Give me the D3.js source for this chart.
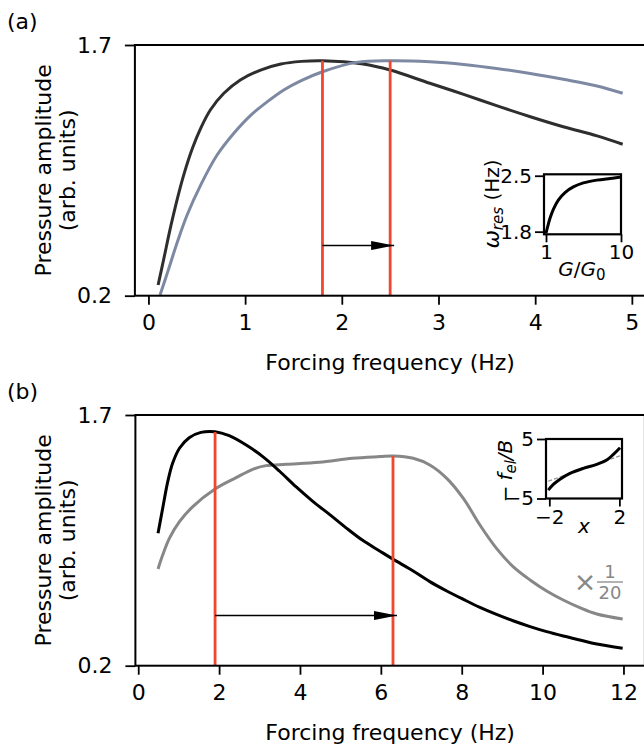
<!DOCTYPE html>
<html>
<head>
<meta charset="utf-8">
<script src="https://cdn.jsdelivr.net/npm/d3@7"></script>
<style>
    body{ margin:0; background:#fff; }
    svg{ font-family:"DejaVu Sans", sans-serif; }
    .axis path{ display:none; }
    .axis line{ stroke:#000; stroke-width:1.8; }
    .axis text{ font-size:22px; fill:#000; font-family:"DejaVu Sans", sans-serif; }
    .inset text{ font-size:20px; }
    .frame{ fill:none; stroke:#000; stroke-width:2; }
    .label{ font-size:22px; fill:#000; }
    .small{ font-size:20px; fill:#000; }
</style>
</head>
<body>
<script>
(function(){

    // panel (a): two resonance curves
    var aBlackX = [0.10, 0.16, 0.23, 0.30, 0.37, 0.455, 0.54, 0.64, 0.78, 0.95, 1.16, 1.37, 1.58, 1.80, 2.22, 2.50, 2.91, 3.26, 3.60, 3.95, 4.29, 4.64, 4.905];
    var aBlackY = [0.264, 0.424, 0.613, 0.783, 0.932, 1.082, 1.201, 1.311, 1.411, 1.491, 1.550, 1.586, 1.602, 1.606, 1.586, 1.550, 1.471, 1.405, 1.337, 1.271, 1.211, 1.156, 1.106];
    var aBlueX = [0.12, 0.20, 0.30, 0.40, 0.54, 0.71, 0.89, 1.06, 1.23, 1.40, 1.58, 1.80, 2.15, 2.50, 2.91, 3.26, 3.60, 3.95, 4.29, 4.64, 4.905];
    var aBlueY = [0.204, 0.344, 0.523, 0.683, 0.862, 1.042, 1.177, 1.281, 1.361, 1.431, 1.487, 1.540, 1.596, 1.606, 1.600, 1.584, 1.560, 1.530, 1.495, 1.455, 1.411];
    var aPeaks = [1.8, 2.5];
    var aPeakAmp = [1.606, 1.606];
    var aTicks = [0, 1, 2, 3, 4, 5];

    // panel (a) inset: resonance frequency vs G/G0
    var insetAX = [1.0, 1.2, 1.48, 1.88, 2.48, 3.28, 4.28, 5.48, 7.09, 8.68, 9.8, 10];
    var insetAY = [1.78, 1.863, 1.967, 2.08, 2.196, 2.29, 2.36, 2.41, 2.445, 2.466, 2.48, 2.482];

    // panel (b)
    var bBlackX = [0.49, 0.605, 0.73, 0.85, 1.02, 1.26, 1.55, 1.90, 2.25, 2.67, 3.08, 3.49, 3.90, 4.31, 4.73, 5.14, 5.55, 5.98, 6.31, 6.80, 7.21, 7.63, 8.04, 8.45, 8.86, 9.27, 9.69, 10.10, 10.51, 10.92, 11.34, 11.98];
    var bBlackY = [0.992, 1.142, 1.301, 1.411, 1.501, 1.564, 1.596, 1.600, 1.576, 1.520, 1.451, 1.365, 1.271, 1.185, 1.105, 1.025, 0.950, 0.885, 0.836, 0.767, 0.703, 0.647, 0.597, 0.549, 0.507, 0.469, 0.434, 0.404, 0.378, 0.354, 0.330, 0.304];
    var bGrayX = [0.49, 0.605, 0.77, 1.02, 1.35, 1.90, 2.42, 2.83, 3.16, 3.66, 4.48, 5.30, 5.98, 6.31, 6.80, 7.21, 7.63, 8.04, 8.45, 8.86, 9.27, 9.69, 10.10, 10.51, 10.92, 11.34, 11.98];
    var bGrayY = [0.779, 0.862, 0.962, 1.062, 1.152, 1.257, 1.325, 1.375, 1.397, 1.405, 1.417, 1.441, 1.451, 1.455, 1.441, 1.401, 1.321, 1.201, 1.042, 0.902, 0.793, 0.713, 0.647, 0.593, 0.547, 0.509, 0.479];
    var bPeaks = [1.9, 6.3];
    var bPeakAmp = [1.598, 1.455];
    var bTicks = [0, 2, 4, 6, 8, 10, 12];

    // panel (b) inset: elastic force
    var insetBX = [-2.06, -1.77, -1.39, -0.82, -0.06, 0.71, 1.28, 1.66, 2.04];
    var insetBY = [-3.6, -2.64, -1.75, -0.78, 0.06, 0.73, 1.46, 2.42, 3.53];
    var insetBLinX = [-2.06, 2.04];
    var insetBLinY = [-2.08, 2.18];

    var ampTicks = [0.2, 1.7];
    var arrowAmp = 0.5;

    var red = "#f2462f";

    var svg = d3.select("body").append("svg")
        .attr("width", 644)
        .attr("height", 750);

    var defs = svg.append("defs");
    defs.append("marker")
        .attr("id", "head")
        .attr("markerUnits", "userSpaceOnUse")
        .attr("markerWidth", 23)
        .attr("markerHeight", 9)
        .attr("refX", 23)
        .attr("refY", 4.5)
        .attr("orient", "auto")
        .append("path")
        .attr("d", "M0,0L23,4.5L0,9Z")
        .attr("fill", "#000");

    function zip(xs, ys){
        return xs.map(function(v, i){ return [v, ys[i]]; });
    }

    function drawMain(opt){
        var x = d3.scaleLinear().domain(opt.xDomain).range(opt.xRange);
        var y = d3.scaleLinear().domain([0.2, 1.7]).range(opt.yRange);
        var line = d3.line()
            .x(function(d){ return x(d[0]); })
            .y(function(d){ return y(d[1]); })
            .curve(d3.curveCatmullRom.alpha(0.5));

        opt.curves.forEach(function(c){
            svg.append("path")
                .datum(zip(c.xs, c.ys))
                .attr("d", line)
                .attr("fill", "none")
                .attr("stroke", c.color)
                .attr("stroke-width", 3);
        });

        opt.peaks.forEach(function(p, i){
            svg.append("line")
                .attr("x1", x(p)).attr("x2", x(p))
                .attr("y1", y(0.2)).attr("y2", y(opt.peakAmp[i]))
                .attr("stroke", red)
                .attr("stroke-width", 2.8);
        });

        svg.append("line")
            .attr("x1", x(opt.peaks[0]))
            .attr("x2", x(opt.peaks[1]) + 4)
            .attr("y1", y(arrowAmp)).attr("y2", y(arrowAmp))
            .attr("stroke", "#000")
            .attr("stroke-width", 1.6)
            .attr("marker-end", "url(#head)");

        svg.append("rect")
            .attr("class", "frame")
            .attr("x", opt.xRange[0])
            .attr("y", opt.yRange[1])
            .attr("width", opt.xRange[1] - opt.xRange[0])
            .attr("height", opt.yRange[0] - opt.yRange[1]);

        svg.append("g")
            .attr("class", "axis")
            .attr("transform", "translate(0," + opt.yRange[0] + ")")
            .call(d3.axisBottom(x).tickValues(opt.ticks).tickFormat(d3.format("d"))
                .tickSize(9).tickPadding(10).tickSizeOuter(0));

        svg.append("g")
            .attr("class", "axis")
            .attr("transform", "translate(" + opt.xRange[0] + ",0)")
            .call(d3.axisLeft(y).tickValues(ampTicks).tickFormat(d3.format(".1f"))
                .tickSize(10).tickPadding(13).tickSizeOuter(0));

        var cy = (opt.yRange[0] + opt.yRange[1]) / 2;
        svg.append("text").attr("class", "label")
            .attr("transform", "translate(51," + cy + ") rotate(-90)")
            .attr("text-anchor", "middle")
            .text("Pressure amplitude");
        svg.append("text").attr("class", "label")
            .attr("transform", "translate(75," + cy + ") rotate(-90)")
            .attr("text-anchor", "middle")
            .text("(arb. units)");

        svg.append("text").attr("class", "label")
            .attr("x", (opt.xRange[0] + opt.xRange[1]) / 2)
            .attr("y", opt.yRange[0] + 74)
            .attr("text-anchor", "middle")
            .text("Forcing frequency (Hz)");

        svg.append("text").attr("class", "label")
            .attr("x", 7)
            .attr("y", opt.yRange[1] - 16)
            .text(opt.tag);

        return {x: x, y: y};
    }

    drawMain({
        xDomain: [-0.14, 5.14], xRange: [134.9, 645.4], yRange: [295.7, 45],
        ticks: aTicks, peaks: aPeaks, peakAmp: aPeakAmp, tag: "(a)",
        curves: [
            {xs: aBlackX, ys: aBlackY, color: "#2e2e2e"},
            {xs: aBlueX, ys: aBlueY, color: "#7d89a2"}
        ]
    });

    drawMain({
        xDomain: [-0.07, 12.53], xRange: [135.4, 644.9], yRange: [665.7, 415],
        ticks: bTicks, peaks: bPeaks, peakAmp: bPeakAmp, tag: "(b)",
        curves: [
            {xs: bGrayX, ys: bGrayY, color: "#878787"},
            {xs: bBlackX, ys: bBlackY, color: "#000"}
        ]
    });

    // x 1/20 note
    var gray = "#888";
    svg.append("text")
        .attr("x", 585).attr("y", 591)
        .attr("text-anchor", "middle")
        .style("font-size", "27px").style("fill", gray)
        .text("\u00d7");
    svg.append("text")
        .attr("x", 610).attr("y", 578)
        .attr("text-anchor", "middle")
        .style("font-size", "18px").style("fill", gray)
        .text("1");
    svg.append("line")
        .attr("x1", 597).attr("x2", 623)
        .attr("y1", 582).attr("y2", 582)
        .attr("stroke", gray).attr("stroke-width", 1.3);
    svg.append("text")
        .attr("x", 610).attr("y", 599)
        .attr("text-anchor", "middle")
        .style("font-size", "18px").style("fill", gray)
        .text("20");

    function drawInset(opt){
        var x = d3.scaleLinear().domain(opt.xDomain).range(opt.xRange);
        var y = d3.scaleLinear().domain(opt.yDomain).range(opt.yRange);
        var line = d3.line()
            .x(function(d){ return x(d[0]); })
            .y(function(d){ return y(d[1]); })
            .curve(d3.curveCatmullRom.alpha(0.5));

        svg.append("rect")
            .attr("x", opt.xRange[0]).attr("y", opt.yRange[1])
            .attr("width", opt.xRange[1] - opt.xRange[0])
            .attr("height", opt.yRange[0] - opt.yRange[1])
            .attr("fill", "#fff");

        if (opt.lin){
            svg.append("path")
                .datum(opt.lin)
                .attr("d", d3.line().x(function(d){ return x(d[0]); }).y(function(d){ return y(d[1]); }))
                .attr("fill", "none")
                .attr("stroke", "#999")
                .attr("stroke-width", 1.3)
                .attr("stroke-dasharray", "4,2");
        }

        svg.append("path")
            .datum(opt.data)
            .attr("d", line)
            .attr("fill", "none")
            .attr("stroke", "#000")
            .attr("stroke-width", 3);

        svg.append("rect")
            .attr("x", opt.xRange[0]).attr("y", opt.yRange[1])
            .attr("width", opt.xRange[1] - opt.xRange[0])
            .attr("height", opt.yRange[0] - opt.yRange[1])
            .attr("fill", "none")
            .attr("stroke", "#000")
            .attr("stroke-width", 2.2);

        svg.append("g")
            .attr("class", "axis inset")
            .attr("transform", "translate(0," + opt.yRange[0] + ")")
            .call(d3.axisBottom(x).tickValues(opt.xTicks).tickFormat(opt.xFormat).tickSize(8).tickPadding(3).tickSizeOuter(0));

        svg.append("g")
            .attr("class", "axis inset")
            .attr("transform", "translate(" + opt.xRange[0] + ",0)")
            .call(d3.axisLeft(y).tickValues(opt.yTicks).tickFormat(opt.yFormat).tickSize(9).tickPadding(3).tickSizeOuter(0));
    }

    drawInset({
        xDomain: [0.76, 10], xRange: [544, 621],
        yDomain: [1.767, 2.518], yRange: [234.3, 174.3],
        xTicks: [1, 10], xFormat: d3.format("d"),
        yTicks: [1.8, 2.5], yFormat: d3.format(".1f"),
        data: zip(insetAX, insetAY)
    });

    drawInset({
        xDomain: [-2.19, 2.15], xRange: [546, 622],
        yDomain: [-5, 5], yRange: [498.5, 439],
        xTicks: [-2, 2], xFormat: d3.format("d"),
        yTicks: [-5, 5], yFormat: d3.format("d"),
        data: zip(insetBX, insetBY),
        lin: zip(insetBLinX, insetBLinY)
    });

    // inset labels
    var wl = svg.append("text").attr("class", "small")
        .attr("transform", "translate(499,204) rotate(-90)")
        .attr("text-anchor", "middle");
    wl.append("tspan").style("font-style", "italic").style("font-size", "22px").text("\u03c9");
    wl.append("tspan").style("font-style", "italic").style("font-size", "15px").attr("dy", 4).text("res");
    wl.append("tspan").attr("dy", -4).text(" (Hz)");

    var gl = svg.append("text").attr("class", "small")
        .attr("x", 582).attr("y", 276)
        .attr("text-anchor", "middle");
    gl.append("tspan").style("font-style", "italic").text("G");
    gl.append("tspan").text("/");
    gl.append("tspan").style("font-style", "italic").text("G");
    gl.append("tspan").style("font-size", "15px").attr("dy", 4).text("0");

    var fl = svg.append("text").attr("class", "small")
        .attr("transform", "translate(512,471) rotate(-90)")
        .attr("text-anchor", "middle");
    fl.append("tspan").text("\u2212");
    fl.append("tspan").style("font-style", "italic").attr("dx", 5).text("f");
    fl.append("tspan").style("font-style", "italic").style("font-size", "15px").attr("dy", 4).text("el");
    fl.append("tspan").style("font-style", "italic").attr("dy", -4).text("/B");

    svg.append("text").attr("class", "small")
        .attr("x", 584).attr("y", 533)
        .attr("text-anchor", "middle")
        .style("font-style", "italic")
        .text("x");

})();
</script>
</body>
</html>
